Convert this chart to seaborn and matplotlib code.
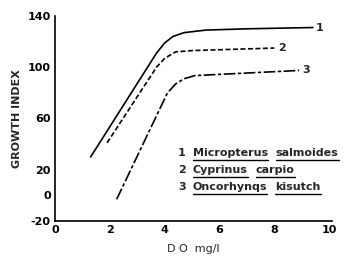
import matplotlib
matplotlib.use("Agg")
import matplotlib.pyplot as plt
import seaborn as sns
import pandas as pd
import numpy as np

sns.set_theme(style="white")
plt.rcParams['font.family'] = ['DejaVu Sans']
plt.rcParams['axes.unicode_minus'] = False

# Data
x1 = [1.3, 3.7, 4.0, 4.3, 4.7, 5.5, 7.0, 9.4]
y1 = [30, 111, 119, 124, 127, 129, 130, 131]
x2 = [1.9, 3.7, 4.0, 4.4, 5.0, 6.5, 8.0]
y2 = [41, 100, 107, 112, 113, 114, 115]
x3 = [2.25, 4.1, 4.4, 4.7, 5.1, 7.0, 8.9]
y3 = [-3, 80, 87, 91, 93.5, 95.5, 97.5]
curve_ids = ["1", "2", "3"]
species = [["Micropterus", "salmoides"], ["Cyprinus", "carpio"], ["Oncorhynqs", "kisutch"]]
x_ticks = [0, 2, 4, 6, 8, 10]
y_ticks = [-20, 0, 20, 60, 100, 140]

fig = plt.figure(figsize=(3.5, 2.65), dpi=100)
ax = fig.add_axes([55/350, 1-221/265, (332-55)/350, (221-16)/265])

styles = ["-", (0, (3, 1.5)), (0, (7, 1.5, 2, 1.5))]
for (xs, ys), ls in zip([(x1, y1), (x2, y2), (x3, y3)], styles):
    df = pd.DataFrame({"x": xs, "y": ys})
    sns.lineplot(data=df, x="x", y="y", ax=ax, color="black", lw=1.2,
                 linestyle=ls, sort=False, estimator=None)

# curve end labels
for xs, ys, cid in zip([x1, x2, x3], [y1, y2, y3], curve_ids):
    ax.text(xs[-1] + 0.12, ys[-1], cid, fontsize=8, fontweight="bold",
            va="center", ha="left")

ax.set_xlim(0, 10.1)
ax.set_ylim(-20, 140)
ax.set_xticks(x_ticks)
ax.set_xticks(np.arange(0, 11, 1), minor=True)
ax.set_yticks(y_ticks)
ax.set_yticks(np.arange(-20, 141, 20), minor=True)
ax.tick_params(axis="both", which="both", direction="in", length=3, width=1,
               colors="black", labelsize=8, pad=3)
for lab in ax.get_xticklabels() + ax.get_yticklabels():
    lab.set_fontweight("bold")
for s in ["top", "right"]:
    ax.spines[s].set_visible(False)
for s in ["left", "bottom"]:
    ax.spines[s].set_color("black")
    ax.spines[s].set_linewidth(1.2)

ax.set_xlabel("D O  mg/l", fontsize=8, labelpad=6)
ax.set_ylabel("GROWTH INDEX", fontsize=8, fontweight="bold", labelpad=4)

# legend block with underlined species names
fig.canvas.draw()
renderer = fig.canvas.get_renderer()
rows_y = [153, 170, 187]
for i, (cid, words) in enumerate(zip(curve_ids, species)):
    ypix = 265 - rows_y[i]
    xpix = 178
    t = fig.text(xpix/350, ypix/265, cid, fontsize=8, fontweight="bold",
                 va="center", ha="left")
    fig.canvas.draw()
    bb = t.get_window_extent(renderer)
    xpix = bb.x1 + 7
    for w in words:
        tw = fig.text(xpix/350, ypix/265, w, fontsize=8, fontweight="bold",
                      va="center", ha="left")
        bbw = tw.get_window_extent(renderer)
        uy = (bbw.y0 - 1.5) / 265
        fig.add_artist(plt.Line2D([bbw.x0/350, bbw.x1/350], [uy, uy],
                                  color="black", lw=1, transform=fig.transFigure))
        xpix = bbw.x1 + 8

fig.savefig("out.png", dpi=100)
